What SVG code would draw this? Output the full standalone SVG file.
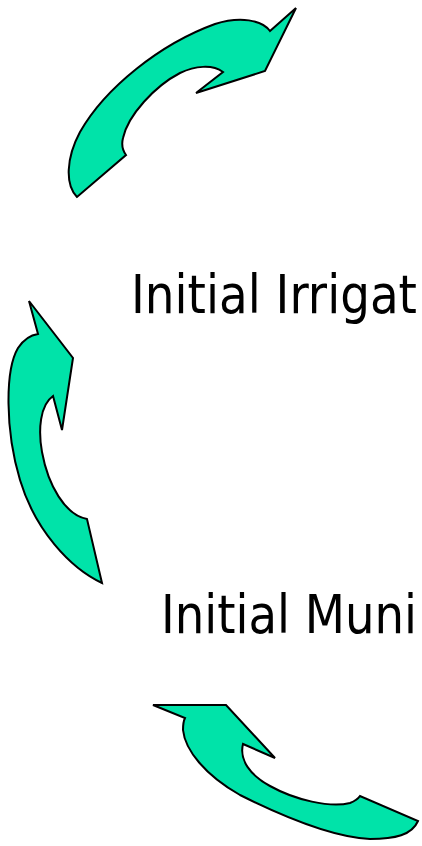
<svg xmlns="http://www.w3.org/2000/svg" width="422" height="846" viewBox="0 0 422 846">
<style>
.arrow{fill:#00E3A9;stroke:#000;stroke-width:2;stroke-linejoin:miter}
.lbl{font-family:"DejaVu Sans","Verdana",sans-serif;font-size:54px;fill:#000}
</style>
<rect width="422" height="846" fill="#fff"/>
<g id="arrow-top">
<path class="arrow" d="M 296,8 L 265,71 L 196,93 L 223,72 C 212,64 195,66 180,73 C 155,86 128,115 123,138 C 121,146 123,151 126,155 L 77,197 C 65,185 66,158 80,132 C 105,88 160,44 215,24 C 240,16 262,20 270,31 Z"/>
</g>
<g id="arrow-left">
<path class="arrow" d="M 29,301 L 73,358 L 62,430 L 53,396 C 40,405 38,430 42,452 C 48,485 65,515 87,519 L 102,583 C 70,568 35,530 20,480 C 5,430 5,370 18,348 C 24,339 31,335 38,334 Z"/>
</g>
<g id="arrow-bottom">
<path class="arrow" d="M 153,705 L 226,705 L 275,758 L 243,744 C 239,760 250,775 270,786 C 295,800 330,808 350,803 C 355,801 358,799 360,796 L 418,821 C 412,835 395,839 370,839 C 330,837 280,815 240,795 C 205,775 185,750 183,730 C 183,724 184,720 185,718 Z"/>
</g>
<g id="label-irrigation">
<text class="lbl" x="131" y="313" textLength="286" lengthAdjust="spacingAndGlyphs">Initial Irrigat</text>
</g>
<g id="label-municipal">
<text class="lbl" x="161" y="633" textLength="256" lengthAdjust="spacingAndGlyphs">Initial Muni</text>
</g>
</svg>
